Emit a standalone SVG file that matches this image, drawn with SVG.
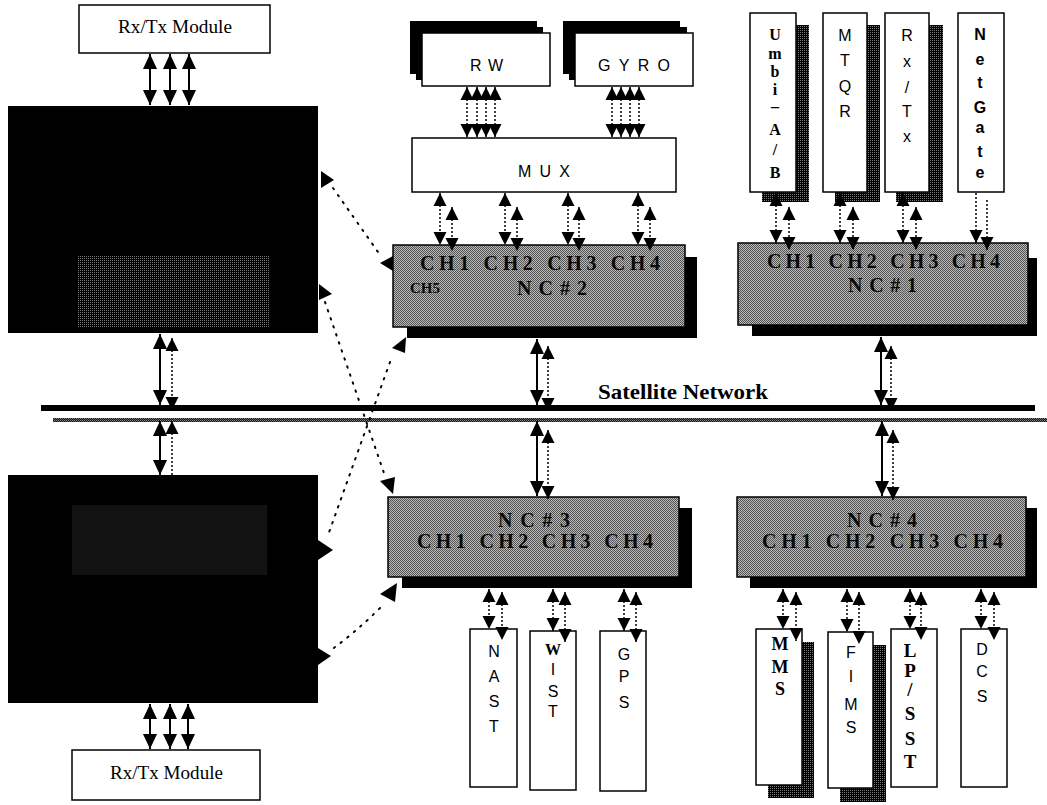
<svg xmlns="http://www.w3.org/2000/svg" width="1047" height="805" viewBox="0 0 1047 805">
<style>
.box{fill:#fff;stroke:#000;stroke-width:1.5}
.blk{fill:#000}
.nc{fill:url(#dith);stroke:#000;stroke-width:1.5}
.ser{font-family:"Liberation Serif","Times New Roman",serif;fill:#000}
.sb{font-family:"Liberation Serif","Times New Roman",serif;font-weight:bold;fill:#000}
.sans{font-family:"Liberation Sans",Arial,sans-serif;fill:#000}
.nct{font-family:"Liberation Serif","Times New Roman",serif;font-weight:bold;font-size:20px;fill:#0a0a0a}
.v{text-anchor:middle}
.s{stroke:#000;stroke-width:2;fill:none}
.d{stroke:#000;stroke-width:1.5;stroke-dasharray:2 2;fill:none}
.x{stroke:#000;stroke-width:2;stroke-dasharray:1.5 7;stroke-linecap:round;fill:none}
.b2{marker-start:url(#ah);marker-end:url(#ah)}
.bs{marker-start:url(#as);marker-end:url(#as)}
.es{marker-end:url(#as)}
.ss{marker-start:url(#as)}
</style>
<defs>
<pattern id="dith" width="2" height="2" patternUnits="userSpaceOnUse"><rect width="2" height="2" fill="#b8b8b8"/><rect width="1" height="1" fill="#555"/><rect x="1" y="1" width="1" height="1" fill="#555"/></pattern>
<pattern id="dk" width="2" height="2" patternUnits="userSpaceOnUse"><rect width="2" height="2" fill="#000"/><rect width="1" height="1" fill="#777"/></pattern>
<pattern id="dk2" width="2" height="2" patternUnits="userSpaceOnUse"><rect width="2" height="2" fill="#111"/><rect width="1" height="1" fill="#888"/><rect x="1" y="1" width="1" height="1" fill="#666"/></pattern>
<marker id="ah" markerUnits="userSpaceOnUse" markerWidth="16" markerHeight="16" viewBox="0 0 16 16" refX="15" refY="8" orient="auto-start-reverse"><path d="M0,1 L15,8 L0,15 z" fill="#000"/></marker>
<marker id="as" markerUnits="userSpaceOnUse" markerWidth="14" markerHeight="14" viewBox="0 0 14 14" refX="13" refY="7" orient="auto-start-reverse"><path d="M0,0.5 L13,7 L0,13.5 z" fill="#000"/></marker>
</defs>
<rect width="1047" height="805" fill="#fff"/>

<g id="network">
<rect x="41" y="405" width="994" height="6" fill="#000"/>
<rect x="53" y="418" width="994" height="4" fill="url(#dk2)"/>
<text class="sb" x="598" y="399" font-size="21" textLength="170" lengthAdjust="spacingAndGlyphs">Satellite Network</text>
</g>

<g id="rxtx-top">
<rect class="box" x="79" y="5" width="191" height="48"/>
<text class="ser" x="118" y="33" font-size="18" textLength="114" lengthAdjust="spacingAndGlyphs">Rx/Tx Module</text>
</g>
<g id="ctrl-top">
<rect class="blk" x="8" y="106" width="310" height="227"/>
<rect x="77" y="255" width="193" height="72" fill="url(#dk)"/>
</g>
<g id="ctrl-bottom">
<rect class="blk" x="8" y="475" width="310" height="228"/>
<rect x="72" y="505" width="195" height="70" fill="#121212"/>
</g>
<g id="rxtx-bottom">
<rect class="box" x="72" y="750" width="188" height="50"/>
<text class="ser" x="110" y="779" font-size="18" textLength="113" lengthAdjust="spacingAndGlyphs">Rx/Tx Module</text>
</g>

<g id="rw">
<rect class="blk" x="410" y="21" width="127" height="53"/>
<rect class="blk" x="416" y="27" width="127" height="53"/>
<rect class="box" x="422" y="33" width="128" height="53"/>
<text class="sans" x="470" y="71" font-size="16" textLength="33" lengthAdjust="spacing">RW</text>
</g>
<g id="gyro">
<rect class="blk" x="563" y="21" width="117" height="53"/>
<rect class="blk" x="569" y="27" width="118" height="53"/>
<rect class="box" x="575" y="33" width="118" height="53"/>
<text class="sans" x="598" y="71" font-size="16" textLength="72" lengthAdjust="spacing">GYRO</text>
</g>
<g id="mux">
<rect class="box" x="412" y="138" width="264" height="54"/>
<text class="sans" x="518" y="177" font-size="16" textLength="52" lengthAdjust="spacing">MUX</text>
</g>

<g id="nc2">
<rect class="blk" x="407" y="257" width="290" height="81"/>
<rect class="nc" x="393" y="245" width="292" height="82"/>
<text class="nct" x="420" y="270" textLength="240" lengthAdjust="spacing">CH1 CH2 CH3 CH4</text>
<text class="nct" x="410" y="293" style="font-size:14px" textLength="30" lengthAdjust="spacingAndGlyphs">CH5</text>
<text class="nct" x="517" y="295" textLength="70" lengthAdjust="spacing">NC#2</text>
</g>
<g id="nc1">
<rect class="blk" x="752" y="258" width="285" height="78"/>
<rect class="nc" x="738" y="243" width="290" height="82"/>
<text class="nct" x="767" y="268" textLength="233" lengthAdjust="spacing">CH1 CH2 CH3 CH4</text>
<text class="nct" x="848" y="292" textLength="69" lengthAdjust="spacing">NC#1</text>
</g>
<g id="nc3">
<rect class="blk" x="402" y="508" width="290" height="80"/>
<rect class="nc" x="388" y="497" width="291" height="80"/>
<text class="nct" x="498" y="527" textLength="72" lengthAdjust="spacing">NC#3</text>
<text class="nct" x="417" y="548" textLength="236" lengthAdjust="spacing">CH1 CH2 CH3 CH4</text>
</g>
<g id="nc4">
<rect class="blk" x="750" y="508" width="287" height="80"/>
<rect class="nc" x="737" y="497" width="289" height="80"/>
<text class="nct" x="847" y="527" textLength="70" lengthAdjust="spacing">NC#4</text>
<text class="nct" x="762" y="548" textLength="241" lengthAdjust="spacing">CH1 CH2 CH3 CH4</text>
</g>

<g id="umbi">
<rect x="762" y="25" width="47" height="177" fill="url(#dk)"/>
<rect class="box" x="750" y="13" width="46" height="179"/>
<text class="sb v" x="775" font-size="16"><tspan x="775" y="40">U</tspan><tspan x="775" y="59">m</tspan><tspan x="775" y="77">b</tspan><tspan x="775" y="95">i</tspan><tspan x="775" y="112">–</tspan><tspan x="775" y="135">A</tspan><tspan x="775" y="155">/</tspan><tspan x="775" y="178">B</tspan></text>
</g>
<g id="mtqr">
<rect x="835" y="25" width="45" height="177" fill="url(#dk)"/>
<rect class="box" x="823" y="13" width="44" height="179"/>
<text class="sans v" x="845" font-size="16"><tspan x="845" y="41">M</tspan><tspan x="845" y="66">T</tspan><tspan x="845" y="92">Q</tspan><tspan x="845" y="117">R</tspan></text>
</g>
<g id="rxtx-node">
<rect x="896" y="25" width="47" height="177" fill="url(#dk)"/>
<rect class="box" x="885" y="13" width="44" height="179"/>
<text class="sans v" x="907" font-size="16"><tspan x="907" y="41">R</tspan><tspan x="907" y="67">x</tspan><tspan x="907" y="93">/</tspan><tspan x="907" y="117">T</tspan><tspan x="907" y="142">x</tspan></text>
</g>
<g id="netgate">
<rect class="box" x="958" y="13" width="46" height="179"/>
<text class="sans v" x="980" font-size="16" font-weight="bold"><tspan x="980" y="40">N</tspan><tspan x="980" y="65">e</tspan><tspan x="980" y="88">t</tspan><tspan x="980" y="113">G</tspan><tspan x="980" y="133">a</tspan><tspan x="980" y="157">t</tspan><tspan x="980" y="178">e</tspan></text>
</g>

<g id="nast">
<rect class="box" x="470" y="629" width="47" height="158"/>
<text class="sans v" x="494" font-size="16"><tspan x="494" y="657">N</tspan><tspan x="494" y="682">A</tspan><tspan x="494" y="707">S</tspan><tspan x="494" y="732">T</tspan></text>
</g>
<g id="wist">
<rect class="box" x="530" y="631" width="46" height="159"/>
<text class="sans v" x="553" font-size="16"><tspan x="553" y="655" font-family="Liberation Serif,serif" font-weight="bold">W</tspan><tspan x="553" y="675">I</tspan><tspan x="553" y="697">S</tspan><tspan x="553" y="717">T</tspan></text>
</g>
<g id="gps">
<rect class="box" x="600" y="631" width="46" height="160"/>
<text class="sans v" x="624" font-size="16"><tspan x="624" y="660">G</tspan><tspan x="624" y="682">P</tspan><tspan x="624" y="708">S</tspan></text>
</g>
<g id="mms">
<rect x="768" y="642" width="46" height="156" fill="url(#dk)"/>
<rect class="box" x="756" y="629" width="46" height="156"/>
<text class="sb v" x="780" font-size="18"><tspan x="780" y="650">M</tspan><tspan x="780" y="673">M</tspan><tspan x="780" y="695">S</tspan></text>
</g>
<g id="fims">
<rect x="840" y="645" width="46" height="157" fill="url(#dk)"/>
<rect class="box" x="828" y="632" width="45" height="156"/>
<text class="sans v" x="851" font-size="16"><tspan x="851" y="658">F</tspan><tspan x="851" y="682">I</tspan><tspan x="851" y="710">M</tspan><tspan x="851" y="733">S</tspan></text>
</g>
<g id="lpsst">
<rect class="box" x="891" y="629" width="46" height="158"/>
<text class="sb v" x="910" font-size="19"><tspan x="910" y="657">L</tspan><tspan x="910" y="677">P</tspan><tspan x="910" y="696">/</tspan><tspan x="910" y="720">S</tspan><tspan x="910" y="745">S</tspan><tspan x="910" y="768">T</tspan></text>
</g>
<g id="dcs">
<rect class="box" x="961" y="629" width="46" height="158"/>
<text class="sans v" x="982" font-size="16"><tspan x="982" y="655">D</tspan><tspan x="982" y="677">C</tspan><tspan x="982" y="702">S</tspan></text>
</g>

<g id="connectors">
<path class="s b2" d="M150 54V105"/><path class="s b2" d="M170 54V105"/><path class="s b2" d="M189 54V105"/>
<path class="s b2" d="M150 704V749"/><path class="s b2" d="M170 704V749"/><path class="s b2" d="M188 704V749"/>

<path class="d bs" d="M467 87V137"/><path class="d bs" d="M477 87V137"/><path class="d bs" d="M486 87V137"/><path class="d bs" d="M495 87V137"/>
<path class="d bs" d="M612 87V137"/><path class="d bs" d="M621 87V137"/><path class="d bs" d="M630 87V137"/><path class="d bs" d="M639 87V137"/>

<path class="d bs" d="M440 193V245"/><path class="d bs" d="M452 207V251"/>
<path class="d bs" d="M505 193V245"/><path class="d bs" d="M517 207V251"/>
<path class="d bs" d="M568 193V245"/><path class="d bs" d="M579 207V251"/>
<path class="d bs" d="M638 193V245"/><path class="d bs" d="M650 207V251"/>

<path class="d bs" d="M776 193V243"/><path class="d bs" d="M789 207V250"/>
<path class="d bs" d="M840 193V243"/><path class="d bs" d="M853 207V250"/>
<path class="d bs" d="M903 193V243"/><path class="d bs" d="M916 207V250"/>
<path class="d es" d="M976 193V243"/><path class="d es" d="M987 200V250"/>

<path class="d bs" d="M489 589V629"/><path class="d bs" d="M502 592V640"/>
<path class="d bs" d="M553 589V631"/><path class="d bs" d="M565 592V642"/>
<path class="d bs" d="M624 589V631"/><path class="d bs" d="M636 592V642"/>

<path class="d bs" d="M783 589V629"/><path class="d bs" d="M796 592V641"/>
<path class="d bs" d="M847 589V632"/><path class="d bs" d="M859 592V644"/>
<path class="d bs" d="M910 589V629"/><path class="d bs" d="M921 592V640"/>
<path class="d bs" d="M981 589V629"/><path class="d bs" d="M994 592V640"/>

<path class="s b2" d="M160 334V405"/><path class="s b2" d="M160 421V475"/>
<path class="d bs" d="M172 338V410"/><path class="d ss" d="M172 421V475"/>
<path class="s b2" d="M537 339V405"/><path class="s b2" d="M537 421V496"/>
<path class="d bs" d="M548 346V411"/><path class="d bs" d="M548 430V499"/>
<path class="s b2" d="M881 337V405"/><path class="s b2" d="M882 421V496"/>
<path class="d bs" d="M891 346V411"/><path class="d bs" d="M893 430V500"/>

<path class="x" d="M333 188L378 252"/>
<path class="x" d="M325 302L385 476"/>
<path class="x" d="M390 362L327 538"/>
<path class="x" d="M380 608Q356 632 331 650"/>
<g fill="#000">
<polygon points="321,171 334,180 321,188"/>
<polygon points="380,263 393,256 393,271"/>
<polygon points="319,284 332,294 319,300"/>
<polygon points="380,481 395,477 393,494"/>
<polygon points="392,348 406,337 405,353"/>
<polygon points="318,540 333,550 318,560"/>
<polygon points="380,594 397,583 395,602"/>
<polygon points="318,648 331,656 318,665"/>
</g>
</g>
</svg>
